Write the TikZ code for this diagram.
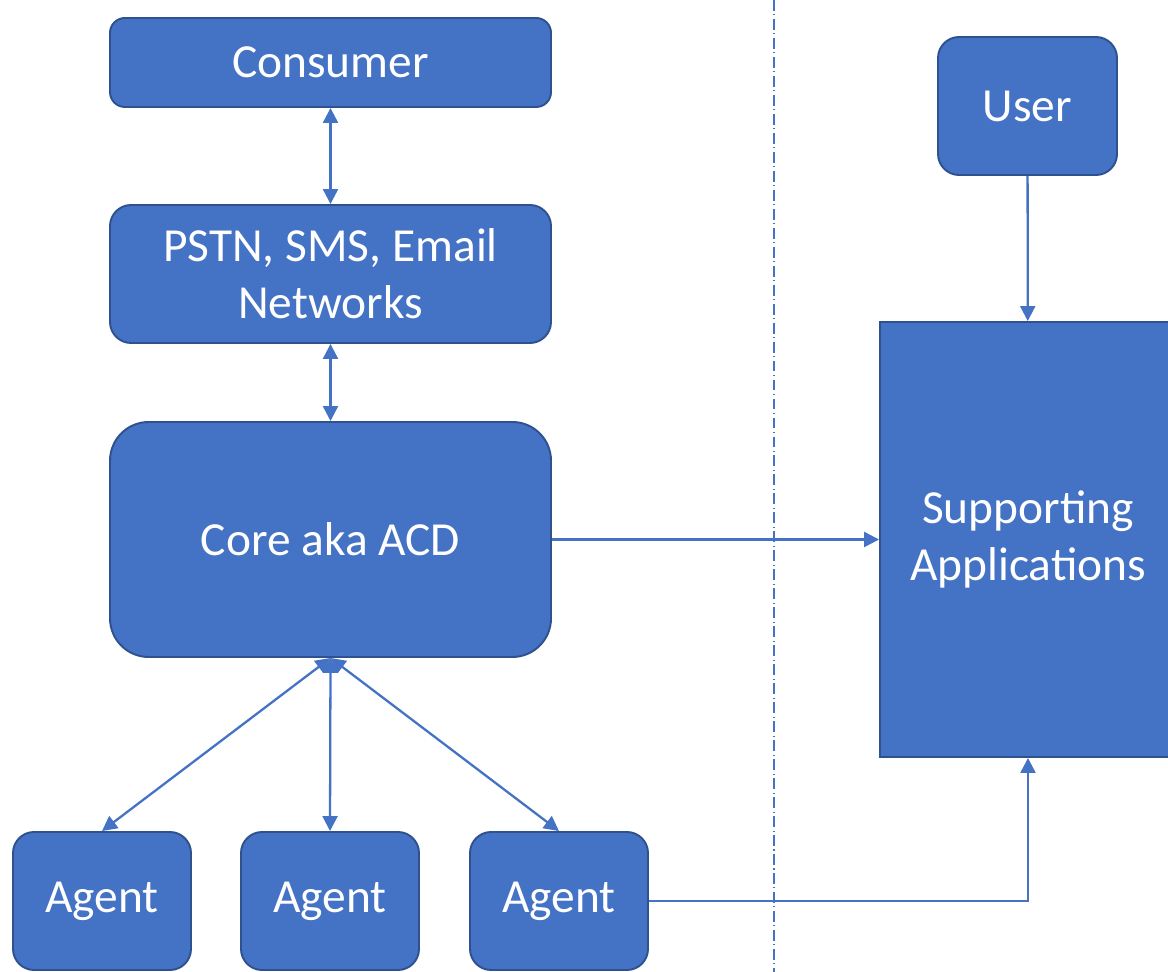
\documentclass[tikz,border=0pt]{standalone}
\usepackage{fontspec}
\setmainfont{Carlito}
\usetikzlibrary{positioning,arrows.meta,calc}
\definecolor{BoxFill}{HTML}{4472C4}
\definecolor{BoxLine}{HTML}{2F528F}

\begin{document}
\begin{tikzpicture}[
  font=\fontsize{27}{32.4}\selectfont,
  box/.style={draw=BoxLine,line width=1.1pt,fill=BoxFill,text=white,
              align=center,inner sep=0pt,rounded corners=#1},
  box/.default=12pt,
  ar/.style={-{Triangle[length=8.5pt,width=8.5pt]},draw=BoxFill,line width=1.3pt},
  arr/.style={ar,{Triangle[length=8.5pt,width=8.5pt]}-{Triangle[length=8.5pt,width=8.5pt]}},
]
\useasboundingbox (0,0) rectangle (23.36,-19.44);

\node[box=8.5pt,minimum width=8.82cm,minimum height=1.78cm] (cons) at (6.61,-1.25) {Consumer};
\node[box,minimum width=8.82cm,minimum height=2.76cm] (pstn) at (6.61,-5.48) {PSTN, SMS, Email\\Networks};
\node[box=22pt,minimum width=8.82cm,minimum height=4.70cm] (core) at (6.61,-10.79) {Core aka ACD};
\node[box,minimum width=3.56cm,minimum height=2.76cm] (ag1) at (2.04,-18.02) {Agent};
\node[box,minimum width=3.56cm,minimum height=2.76cm] (ag2) at (6.60,-18.02) {Agent};
\node[box,minimum width=3.56cm,minimum height=2.76cm] (ag3) at (11.18,-18.02) {Agent};
\node[box,minimum width=3.58cm,minimum height=2.76cm] (user) at (20.55,-2.12) {User};
\node[box=0pt,minimum width=5.92cm,minimum height=8.70cm] (supp) at (20.56,-10.79) {Supporting\\Applications};

% divider
\coordinate (top) at (15.48,0);
\coordinate (bot) at (15.48,-19.44);
\draw[BoxFill,line width=0.6pt,dash pattern=on 6.2pt off 2pt on 0.6pt off 2pt] (top) -- (bot);

\draw[arr] (cons) -- (pstn);
\draw[arr] (pstn) -- (core);
\draw[arr] (core.south) -- (ag1.north);
\draw[arr] (core.south) -- (ag2.north);
\draw[arr] (core.south) -- (ag3.north);
\draw[ar] (core.east) -- (core.east -| supp.west);
\draw[ar] (user) -- (supp);
\draw[ar] (ag3.east) -| (supp.south);
\end{tikzpicture}
\end{document}
